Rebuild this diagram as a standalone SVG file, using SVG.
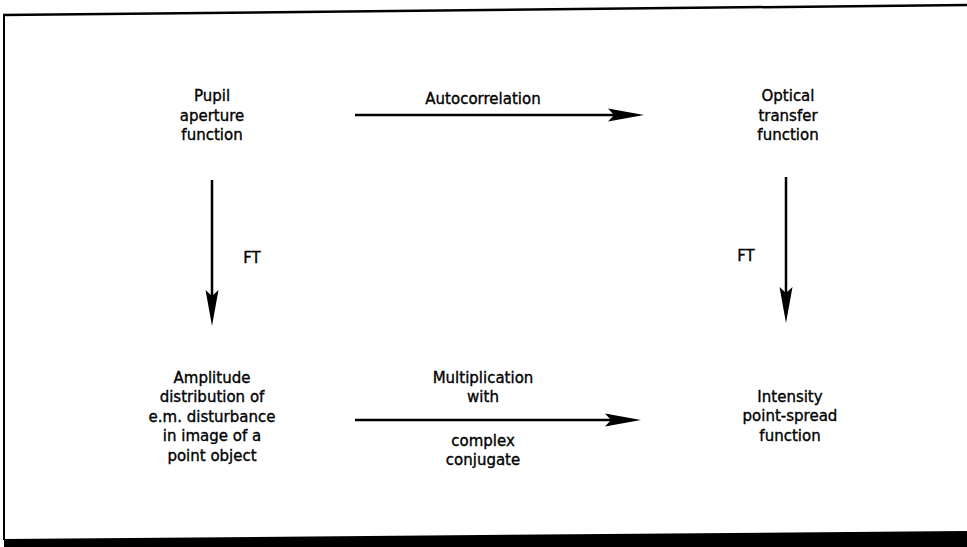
<svg xmlns="http://www.w3.org/2000/svg" width="967" height="547" viewBox="0 0 967 547">
<style>
text{font-family:"DejaVu Sans","Liberation Sans",sans-serif;font-size:15px;fill:#000;stroke:#000;stroke-width:0.35;text-anchor:middle}
.ln{stroke:#000;stroke-width:2.5;fill:none}
</style>
<defs>
<path id="headR" d="M0,0 L-36,-6.5 L-30,0 L-36,6.5 Z" fill="#000"/>
<path id="headD" d="M0,0 L-6.5,-36 L0,-30 L6.5,-36 Z" fill="#000"/>
</defs>
<rect width="967" height="547" fill="#fff"/>
<g id="frame">
<path d="M3,15 L967,5" stroke="#000" stroke-width="2.5" fill="none"/>
<path d="M4,14 L4,540" stroke="#000" stroke-width="2" fill="none"/>
<path d="M4,539 L967,531 L967,547 L4,547 Z" fill="#000"/>
</g>
<g id="connectors">
<line class="ln" x1="355" y1="115" x2="615" y2="115"/>
<use href="#headR" x="644" y="115"/>
<line class="ln" x1="355" y1="420" x2="612" y2="420"/>
<use href="#headR" x="641" y="420"/>
<line class="ln" x1="212" y1="180" x2="212" y2="300"/>
<use href="#headD" x="212" y="326"/>
<line class="ln" x1="786" y1="177" x2="786" y2="297"/>
<use href="#headD" x="786" y="323"/>
<text x="483" y="104">Autocorrelation</text>
<text x="483" y="383">Multiplication</text>
<text x="483" y="402">with</text>
<text x="483" y="446">complex</text>
<text x="483" y="465">conjugate</text>
<text x="252" y="263">FT</text>
<text x="746" y="261">FT</text>
</g>
<g id="pupil">
<text x="212" y="101">Pupil</text>
<text x="212" y="121">aperture</text>
<text x="212" y="140">function</text>
</g>
<g id="otf">
<text x="788" y="101">Optical</text>
<text x="788" y="121">transfer</text>
<text x="788" y="140">function</text>
</g>
<g id="amplitude">
<text x="212" y="383">Amplitude</text>
<text x="212" y="402">distribution of</text>
<text x="212" y="422">e.m. disturbance</text>
<text x="212" y="441">in image of a</text>
<text x="212" y="461">point object</text>
</g>
<g id="psf">
<text x="790" y="402">Intensity</text>
<text x="790" y="421">point-spread</text>
<text x="790" y="441">function</text>
</g>
</svg>
